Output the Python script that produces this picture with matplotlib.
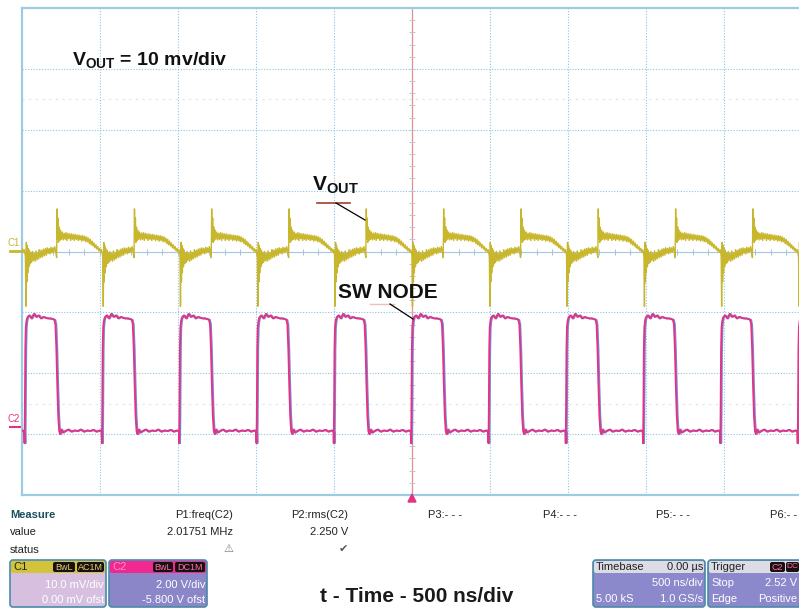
import numpy as np
import matplotlib.pyplot as plt
from matplotlib.patches import FancyBboxPatch, Polygon

plt.rcParams['font.family'] = ['Liberation Sans', 'DejaVu Sans']
plt.rcParams['mathtext.fontset'] = 'custom'
plt.rcParams['mathtext.bf'] = 'Liberation Sans:bold'
plt.rcParams['mathtext.rm'] = 'Liberation Sans'

# scope settings
ns_per_div = 500.0
c1_mv_per_div = 10.0
c2_v_per_div = 2.0
c2_offset_v = -5.8

# rising edges of the switch node, ns (trigger at 0)
rise_ns = [-2974, -2478, -1982, -1487, -991, -496, 0, 496, 991, 1487, 1982, 2478]

# one switching period of SW node, time after rising edge (ns) / volts
sw_t = [0, 2, 5, 8, 12, 16, 20, 30, 45, 60, 75, 90, 105, 120, 135, 150, 165,
        180, 192, 198, 204, 210, 216, 222, 228, 236, 246, 260, 280, 300, 320,
        340, 360, 380, 400, 420, 440, 460, 480, 490, 494]
sw_v = [-0.5, 0.4, 2.6, 3.3, 3.5, 3.6, 3.65, 3.7, 3.6, 3.75, 3.65, 3.7, 3.6,
        3.65, 3.62, 3.6, 3.6, 3.58, 3.55, 3.4, 2.6, 1.4, 0.4, -0.1, -0.2,
        -0.05, -0.15, -0.1, -0.05, -0.12, -0.08, -0.1, -0.05, -0.12, -0.08,
        -0.1, -0.06, -0.12, -0.08, -0.1, -0.15]

# one period of VOUT ripple, time after SW rising edge (ns) / mV
vout_t = [0, 3, 6, 9, 12, 15, 18, 22, 26, 30, 35, 40, 45, 50, 56, 62, 68, 74,
          80, 86, 92, 98, 104, 110, 116, 122, 128, 134, 140, 146, 152, 158,
          164, 170, 176, 182, 188, 194, 200, 203, 206, 209, 212, 216, 220,
          225, 230, 236, 242, 248, 254, 260, 266, 272, 278, 284, 290, 296,
          302, 308, 314, 320, 326, 332, 338, 344, 350, 356, 362, 368, 374,
          380, 386, 392, 398, 404, 410, 416, 422, 428, 434, 440, 446, 452,
          458, 464, 470, 476, 482, 488, 494]
vout_mv = [-1.0, -9.0, 1.5, -5.0, 1.0, -3.5, 0.5, -2.5, 0.2, -2.0, -0.2, -1.8,
           0.0, -1.5, -0.3, -1.6, 0.1, -1.4, -0.2, -1.2, 0.3, -1.0, 0.2, -0.9,
           0.4, -0.7, 0.5, -0.6, 0.6, -0.3, 0.5, -0.4, 0.7, -0.2, 0.6, -0.1,
           0.8, 0.0, -1.0, 7.0, 2.0, 5.5, 1.5, 4.0, 1.8, 3.5, 2.0,
           3.2, 1.9, 3.0, 2.0, 3.1, 1.8, 3.0, 2.1, 2.9, 1.8, 2.9, 2.0, 2.8,
           1.8, 2.8, 2.0, 2.7, 1.8, 2.7, 1.9, 2.6, 1.7, 2.6, 1.8, 2.5, 1.6,
           2.4, 1.6, 2.2, 1.3, 2.0, 1.1, 1.7, 0.9, 1.4, 0.6, 1.1, 0.4, 0.8,
           0.1, 0.5, -0.1, 0.3, -0.5]

W, H = 799, 608
fig = plt.figure(figsize=(W / 100, H / 100), dpi=100)
fig.patch.set_facecolor('white')

# graticule
ax = fig.add_axes([22 / W, 1 - 495 / H, 780 / W, 487 / H])
ax.set_xlim(-5 * ns_per_div, 5 * ns_per_div)
ax.set_ylim(-4, 4)
ax.set_xticks([])
ax.set_yticks([])
for s in ax.spines.values():
    s.set_color('#9ccbe4')
    s.set_linewidth(1.6)

grid_c = '#8fc3e0'
for k in range(-4, 5):
    ax.axvline(k * ns_per_div, color=grid_c, lw=0.8, ls=(0, (1, 1.5)), zorder=1)
for k in range(-3, 4):
    ax.axhline(k, color=grid_c, lw=0.8, ls=(0, (1, 1.5)), zorder=1)
for yy in (2.5, -2.5):
    ax.axhline(yy, color='#d6e7f3', lw=0.8, ls=(0, (2, 4)), zorder=1)
ax.axhline(0, color='#a8c8e0', lw=0.8, zorder=1)
ax.axvline(0, color='#e89090', lw=0.9, zorder=1)
tk_y = np.arange(-4, 4.01, 0.2)
tk_x = np.arange(-2500, 2501, 100)
ax.plot(np.zeros(len(tk_y)), tk_y, ls='none', marker='_', ms=4, mew=0.7,
        color='#b8c8d8', zorder=1)
ax.plot(tk_x, np.zeros(len(tk_x)), ls='none', marker='|', ms=4, mew=0.7,
        color='#a8c0d8', zorder=1)

# traces
t1 = np.concatenate([r + np.array(vout_t) for r in rise_ns])
y1 = np.concatenate([np.array(vout_mv) / c1_mv_per_div for r in rise_ns])
t2 = np.concatenate([r + np.array(sw_t) for r in rise_ns])
y2 = np.concatenate([(np.array(sw_v) + c2_offset_v) / c2_v_per_div for r in rise_ns])

ax.plot(t1, y1, color='#c8b72c', lw=1.0, zorder=3)
ax.plot(t2, y2, color='#7d83d4', lw=1.4, zorder=3)
ax.plot(t2 - 6, y2, color='#e63282', lw=1.3, zorder=4)

# overlay in pixel coordinates
ov = fig.add_axes([0, 0, 1, 1], zorder=5)
ov.set_xlim(0, W)
ov.set_ylim(H, 0)
ov.axis('off')
ov.patch.set_alpha(0)

# channel markers
ov.text(8, 243, 'C1', color='#c8b72c', fontsize=7, va='center')
ov.plot([10, 22], [251, 251], color='#c8b72c', lw=2)
ov.text(8, 419, 'C2', color='#e63282', fontsize=7, va='center')
ov.plot([10, 20], [427, 427], color='#e63282', lw=1.5)
ov.add_patch(Polygon([[408, 502], [416, 502], [412, 494]], closed=True, color='#e63282'))

# annotations
ov.text(72, 60, r'$\mathbf{V_{OUT}}$ = 10 mv/div', fontsize=14, fontweight='bold',
        va='center', ha='left', color='#111111')
ov.text(312, 185, r'$\mathbf{V_{OUT}}$', fontsize=15, va='center', ha='left', color='#111111')
ov.plot([317, 350], [203, 203], color='#a0402a', lw=1.2)
ov.plot([336, 365], [203, 220], color='black', lw=0.9)
ov.text(338, 292, 'SW NODE', fontsize=15, fontweight='bold', va='center', ha='left',
        color='#111111')
ov.plot([370, 394], [304, 304], color='#f0c0b0', lw=1.0)
ov.plot([390, 413], [304, 319], color='black', lw=0.9)
ov.text(417, 597, 't - Time - 500 ns/div', fontsize=15, fontweight='bold',
        va='center', ha='center', color='#1a1a1a')

# measurement table
fs = 8
ov.text(10, 515, 'Measure', fontsize=fs, fontweight='bold', color='#1b4f5f', va='center')
ov.text(10, 532, 'value', fontsize=fs, color='#222222', va='center')
ov.text(10, 550, 'status', fontsize=fs, color='#222222', va='center')
ov.text(233, 515, 'P1:freq(C2)', fontsize=fs, color='#222222', va='center', ha='right')
ov.text(233, 532, '2.01751 MHz', fontsize=fs, color='#222222', va='center', ha='right')
ov.text(228, 549, '\u26a0', fontsize=8, color='#777777', va='center', ha='center',
        family='DejaVu Sans')
ov.text(348, 515, 'P2:rms(C2)', fontsize=fs, color='#222222', va='center', ha='right')
ov.text(348, 532, '2.250 V', fontsize=fs, color='#222222', va='center', ha='right')
ov.text(343, 549, '\u2714', fontsize=8, color='#555555', va='center', ha='center',
        family='DejaVu Sans')
for xp, lab in [(428, 'P3:- - -'), (543, 'P4:- - -'), (656, 'P5:- - -'), (770, 'P6:- -')]:
    ov.text(xp, 515, lab, fontsize=fs, color='#222222', va='center', ha='left')


def panel(x0, x1, head_c, body_c):
    ov.add_patch(FancyBboxPatch((x0, 560), x1 - x0, 47, boxstyle='round,pad=0,rounding_size=3',
                                fc=body_c, ec='#4a8aa8', lw=1.2))
    ov.add_patch(FancyBboxPatch((x0 + 1, 561), x1 - x0 - 2, 12,
                                boxstyle='round,pad=0,rounding_size=2', fc=head_c, ec='none'))


def tag(x0, x1, txt, c, size=6.5):
    ov.add_patch(FancyBboxPatch((x0, 562), x1 - x0, 10, boxstyle='round,pad=0,rounding_size=2',
                                fc='#1a1010', ec='none'))
    ov.text((x0 + x1) / 2, 567, txt, fontsize=size, color=c, va='center', ha='center')


panel(10, 106, '#d2c43a', '#d7bfe0')
ov.text(13, 567, 'C1', fontsize=fs, color='#222222', va='center')
tag(53, 75, 'BwL', '#e0d070')
tag(77, 104, 'AC1M', '#e0d070')
ov.text(104, 585, '10.0 mV/div', fontsize=fs, color='white', va='center', ha='right')
ov.text(104, 600, '0.00 mV ofst', fontsize=fs, color='white', va='center', ha='right')

panel(109, 207, '#f02890', '#8a86c8')
ov.text(112, 567, 'C2', fontsize=fs, color='#ff8cc8', va='center')
tag(153, 173, 'BwL', '#ff70b0')
tag(175, 205, 'DC1M', '#ff70b0')
ov.text(205, 585, '2.00 V/div', fontsize=fs, color='white', va='center', ha='right')
ov.text(205, 600, '-5.800 V ofst', fontsize=fs, color='white', va='center', ha='right')

panel(593, 705, '#dcdce4', '#8c88cc')
ov.text(596, 567, 'Timebase', fontsize=fs, color='#222222', va='center')
ov.text(703, 567, '0.00 \u00b5s', fontsize=fs, color='#222222', va='center', ha='right')
ov.text(703, 583, '500 ns/div', fontsize=fs, color='white', va='center', ha='right')
ov.text(596, 599, '5.00 kS', fontsize=fs, color='white', va='center')
ov.text(703, 599, '1.0 GS/s', fontsize=fs, color='white', va='center', ha='right')

panel(708, 830, '#dcdce4', '#8c88cc')
ov.text(711, 567, 'Trigger', fontsize=fs, color='#222222', va='center')
tag(770, 785, 'C2', '#ff70b0')
tag(786, 799, 'DC', '#ff70b0', size=6)
ov.text(711, 583, 'Stop', fontsize=fs, color='white', va='center')
ov.text(797, 583, '2.52 V', fontsize=fs, color='white', va='center', ha='right')
ov.text(711, 599, 'Edge', fontsize=fs, color='white', va='center')
ov.text(797, 599, 'Positive', fontsize=fs, color='white', va='center', ha='right')

fig.savefig('out.png', dpi=100, facecolor='white')
